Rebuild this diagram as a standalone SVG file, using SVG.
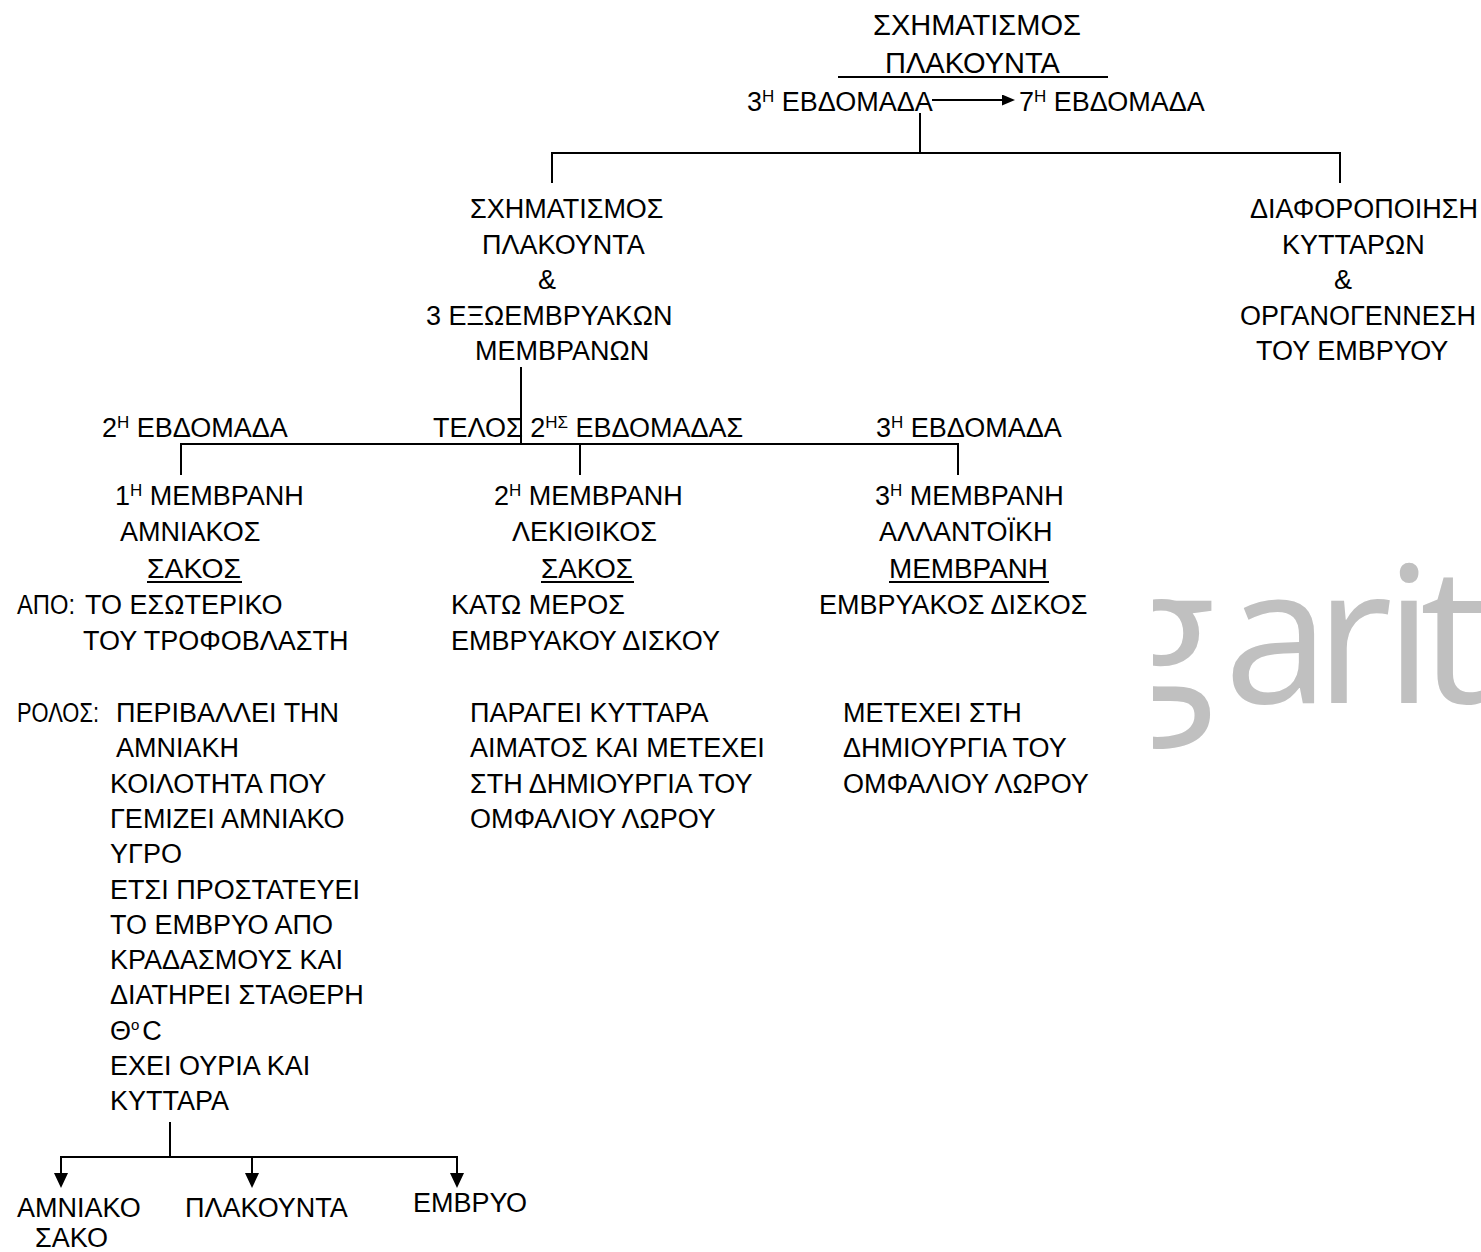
<svg xmlns="http://www.w3.org/2000/svg" width="1481" height="1252" viewBox="0 0 1481 1252">
<style>
text{font-family:"Liberation Sans",Arial,sans-serif;font-size:27px;fill:#000}
.big{font-size:29px}
.sup{font-size:17px}
.wm{font-family:"Open Sans",sans-serif;font-size:190px;fill:#c0c0c0}
.ln{stroke:#000;stroke-width:2;fill:none}
</style>
<defs>
<marker id="ah" markerUnits="userSpaceOnUse" viewBox="0 0 15 14" refX="3" refY="7" markerWidth="15" markerHeight="14" orient="auto"><path d="M0,0 L15,7 L0,14 z" fill="#000"/></marker>
<marker id="ahs" markerUnits="userSpaceOnUse" viewBox="0 0 13 11" refX="2" refY="5.5" markerWidth="13" markerHeight="11" orient="auto"><path d="M0,0 L13,5.5 L0,11 z" fill="#000"/></marker>
<clipPath id="wmclip"><rect x="1153" y="540" width="328" height="240"/></clipPath>
</defs>
<rect width="1481" height="1252" fill="#fff"/>
<g id="watermark" clip-path="url(#wmclip)"><text class="wm" x="1112 1224 1315 1385 1420" y="703">garit</text></g>

<g id="connectors">
<line class="ln" x1="932" y1="100" x2="1004" y2="100" marker-end="url(#ahs)"/>
<line class="ln" x1="920" y1="113" x2="920" y2="153"/>
<line class="ln" x1="551" y1="153" x2="1341" y2="153"/>
<line class="ln" x1="552" y1="153" x2="552" y2="183"/>
<line class="ln" x1="1340" y1="153" x2="1340" y2="183"/>
<line class="ln" x1="521" y1="367" x2="521" y2="444"/>
<line class="ln" x1="180" y1="444" x2="959" y2="444"/>
<line class="ln" x1="181" y1="444" x2="181" y2="475"/>
<line class="ln" x1="580" y1="444" x2="580" y2="475"/>
<line class="ln" x1="958" y1="444" x2="958" y2="475"/>
<line class="ln" x1="170" y1="1122" x2="170" y2="1157"/>
<line class="ln" x1="60" y1="1157" x2="458" y2="1157"/>
<line class="ln" x1="61" y1="1157" x2="61" y2="1176" marker-end="url(#ah)"/>
<line class="ln" x1="252" y1="1157" x2="252" y2="1176" marker-end="url(#ah)"/>
<line class="ln" x1="457" y1="1157" x2="457" y2="1176" marker-end="url(#ah)"/>
</g>

<g id="title">
<text class="big" x="873" y="35">ΣΧΗΜΑΤΙΣΜΟΣ</text>
<text class="big" x="885" y="73">ΠΛΑΚΟΥΝΤΑ</text>
<line class="ln" x1="838" y1="77" x2="1108" y2="77"/>
<text x="747" y="111">3<tspan class="sup" dy="-9">Η</tspan><tspan dy="9"> ΕΒΔΟΜΑΔΑ</tspan></text>
<text x="1019" y="111">7<tspan class="sup" dy="-9">Η</tspan><tspan dy="9"> ΕΒΔΟΜΑΔΑ</tspan></text>
</g>

<g id="node-placenta-membranes">
<text x="470" y="218">ΣΧΗΜΑΤΙΣΜΟΣ</text>
<text x="482" y="253.5">ΠΛΑΚΟΥΝΤΑ</text>
<text x="538" y="289">&amp;</text>
<text x="426" y="324.5">3 ΕΞΩΕΜΒΡΥΑΚΩΝ</text>
<text x="475" y="360">ΜΕΜΒΡΑΝΩΝ</text>
</g>

<g id="node-differentiation">
<text x="1250" y="218">ΔΙΑΦΟΡΟΠΟΙΗΣΗ</text>
<text x="1282" y="253.5">ΚΥΤΤΑΡΩΝ</text>
<text x="1334" y="289">&amp;</text>
<text x="1240" y="324.5">ΟΡΓΑΝΟΓΕΝΝΕΣΗ</text>
<text x="1256" y="360">ΤΟΥ ΕΜΒΡΥΟΥ</text>
</g>

<g id="timing-labels">
<text x="102" y="437">2<tspan class="sup" dy="-9">Η</tspan><tspan dy="9"> ΕΒΔΟΜΑΔΑ</tspan></text>
<text x="433" y="437">ΤΕΛΟΣ 2<tspan class="sup" dy="-9">ΗΣ</tspan><tspan dy="9"> ΕΒΔΟΜΑΔΑΣ</tspan></text>
<text x="876" y="437">3<tspan class="sup" dy="-9">Η</tspan><tspan dy="9"> ΕΒΔΟΜΑΔΑ</tspan></text>
</g>

<g id="node-amnion">
<text x="115" y="505">1<tspan class="sup" dy="-9">Η</tspan><tspan dy="9"> ΜΕΜΒΡΑΝΗ</tspan></text>
<text x="120" y="541">ΑΜΝΙΑΚΟΣ</text>
<text x="147" y="578" textLength="94" lengthAdjust="spacingAndGlyphs">ΣΑΚΟΣ</text>
<line class="ln" x1="147" y1="582" x2="242" y2="582"/>
<text x="17" y="614" textLength="58" lengthAdjust="spacingAndGlyphs">ΑΠΟ:</text>
<text x="85" y="614">ΤΟ ΕΣΩΤΕΡΙΚΟ</text>
<text x="83" y="650">ΤΟΥ ΤΡΟΦΟΒΛΑΣΤΗ</text>
<text x="17" y="722" textLength="82" lengthAdjust="spacingAndGlyphs">ΡΟΛΟΣ:</text>
<text x="116" y="722">ΠΕΡΙΒΑΛΛΕΙ ΤΗΝ</text>
<text x="116" y="757.3">ΑΜΝΙΑΚΗ</text>
<text x="110" y="792.6">ΚΟΙΛΟΤΗΤΑ ΠΟΥ</text>
<text x="110" y="827.9">ΓΕΜΙΖΕΙ ΑΜΝΙΑΚΟ</text>
<text x="110" y="863.2">ΥΓΡΟ</text>
<text x="110" y="898.5">ΕΤΣΙ ΠΡΟΣΤΑΤΕΥΕΙ</text>
<text x="110" y="933.8">ΤΟ ΕΜΒΡΥΟ ΑΠΟ</text>
<text x="110" y="969.1">ΚΡΑΔΑΣΜΟΥΣ ΚΑΙ</text>
<text x="110" y="1004.4">ΔΙΑΤΗΡΕΙ ΣΤΑΘΕΡΗ</text>
<text x="110" y="1039.7">Θ<tspan font-size="15" dy="-10">o</tspan><tspan dy="10" dx="3">C</tspan></text>
<text x="110" y="1075">ΕΧΕΙ ΟΥΡΙΑ ΚΑΙ</text>
<text x="110" y="1110.3">ΚΥΤΤΑΡΑ</text>
</g>

<g id="node-yolk-sac">
<text x="494" y="505">2<tspan class="sup" dy="-9">Η</tspan><tspan dy="9"> ΜΕΜΒΡΑΝΗ</tspan></text>
<text x="512" y="541">ΛΕΚΙΘΙΚΟΣ</text>
<text x="541" y="578" textLength="92" lengthAdjust="spacingAndGlyphs">ΣΑΚΟΣ</text>
<line class="ln" x1="541" y1="582" x2="634" y2="582"/>
<text x="451" y="614">ΚΑΤΩ ΜΕΡΟΣ</text>
<text x="451" y="650">ΕΜΒΡΥΑΚΟΥ ΔΙΣΚΟΥ</text>
<text x="470" y="722">ΠΑΡΑΓΕΙ ΚΥΤΤΑΡΑ</text>
<text x="470" y="757.3">ΑΙΜΑΤΟΣ ΚΑΙ ΜΕΤΕΧΕΙ</text>
<text x="470" y="792.6">ΣΤΗ ΔΗΜΙΟΥΡΓΙΑ ΤΟΥ</text>
<text x="470" y="827.9">ΟΜΦΑΛΙΟΥ ΛΩΡΟΥ</text>
</g>

<g id="node-allantois">
<text x="875" y="505">3<tspan class="sup" dy="-9">Η</tspan><tspan dy="9"> ΜΕΜΒΡΑΝΗ</tspan></text>
<text x="879" y="541">ΑΛΛΑΝΤΟΪΚΗ</text>
<text x="889" y="578" textLength="159" lengthAdjust="spacingAndGlyphs">ΜΕΜΒΡΑΝΗ</text>
<line class="ln" x1="889" y1="582" x2="1049" y2="582"/>
<text x="819" y="614">ΕΜΒΡΥΑΚΟΣ ΔΙΣΚΟΣ</text>
<text x="843" y="722">ΜΕΤΕΧΕΙ ΣΤΗ</text>
<text x="843" y="757.3">ΔΗΜΙΟΥΡΓΙΑ ΤΟΥ</text>
<text x="843" y="792.6">ΟΜΦΑΛΙΟΥ ΛΩΡΟΥ</text>
</g>

<g id="node-amniotic-sac">
<text x="17" y="1217">ΑΜΝΙΑΚΟ</text>
<text x="35" y="1247">ΣΑΚΟ</text>
</g>
<g id="node-placenta"><text x="185" y="1217">ΠΛΑΚΟΥΝΤΑ</text></g>
<g id="node-embryo"><text x="413" y="1212">ΕΜΒΡΥΟ</text></g>
</svg>
